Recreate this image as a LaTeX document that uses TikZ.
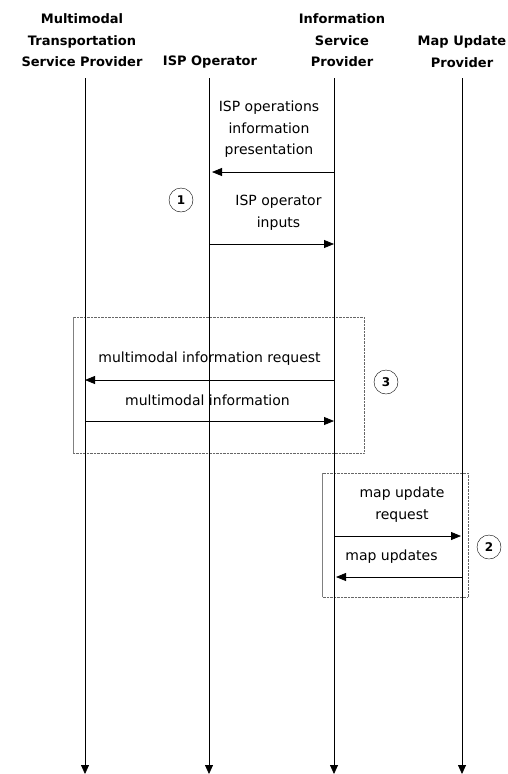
\documentclass[tikz,border=0pt]{standalone}
\usepackage{fontspec}
\setmainfont{DejaVu Sans}
\usetikzlibrary{arrows.meta}

\tikzstyle{actor}=[align=center,inner sep=0pt,font=\bfseries\fontsize{13}{21.5}\selectfont]
\tikzstyle{msglabel}=[align=center,inner sep=0pt,font=\fontsize{14}{21.5}\selectfont]
\tikzstyle{stepmark}=[circle,draw,thin,minimum size=24pt,inner sep=0pt,font=\bfseries\fontsize{12}{14}\selectfont]
\tikzstyle{lifeline}=[draw,thick,-{Triangle[length=9pt,width=8pt]}]
\tikzstyle{msg}=[draw,thick,-{Triangle[length=10pt,width=8pt]}]
\tikzstyle{group}=[draw=black!60,densely dotted,thin]

\begin{document}
\begin{tikzpicture}[x=1pt,y=-1pt]
		\useasboundingbox (0,0) rectangle (508,774);

		% actors
		\node [actor] (mtsp)  at (82, 40.5)  {Multimodal\\Transportation\\Service Provider};
		\node [actor] (ispop) at (210, 62)   {ISP Operator};
		\node [actor] (isp)   at (342, 40.5) {Information\\Service\\Provider};
		\node [actor] (mup)   at (462, 51.5) {Map Update\\Provider};

		\coordinate (mtsp top)  at (85, 78);
		\coordinate (mtsp bot)  at (85, 774);
		\coordinate (ispop top) at (209, 78);
		\coordinate (ispop bot) at (209, 774);
		\coordinate (isp top)   at (334, 78);
		\coordinate (isp bot)   at (334, 774);
		\coordinate (mup top)   at (462, 78);
		\coordinate (mup bot)   at (462, 774);

		% groups
		\draw [group] (73, 317) rectangle (364, 453);
		\draw [draw=black!50,thin] (73, 317) -- (73, 453);
		\draw [group] (322, 473) rectangle (468, 597);
		\draw [draw=black!50,thin] (322, 473) -- (322, 597);

		\draw [lifeline] (mtsp top)  -- (mtsp bot);
		\draw [lifeline] (ispop top) -- (ispop bot);
		\draw [lifeline] (isp top)   -- (isp bot);
		\draw [lifeline] (mup top)   -- (mup bot);

		% message levels
		\coordinate (m1) at (0, 172);
		\coordinate (m2) at (0, 244);
		\coordinate (m3) at (0, 380);
		\coordinate (m4) at (0, 421);
		\coordinate (m5) at (0, 536);
		\coordinate (m6) at (0, 577);

		\node [msglabel] (l1) at (269, 129.5) {ISP operations\\information\\presentation};
		\node [msglabel] (l2) at (278.5, 213) {ISP operator\\inputs};
		\node [msglabel] (l3) at (209.5, 359) {multimodal information request};
		\node [msglabel] (l4) at (207.5, 400) {multimodal information};
		\node [msglabel] (l5) at (402, 504.5) {map update\\request};
		\node [msglabel] (l6) at (391.5, 557) {map updates};

		\draw [msg] (isp top |- m1)   -- ([xshift=3pt]ispop top |- m1);
		\draw [msg] (ispop top |- m2) -- (isp top |- m2);
		\draw [msg] (isp top |- m3)   -- (mtsp top |- m3);
		\draw [msg] (mtsp top |- m4)  -- (isp top |- m4);
		\draw [msg] (isp top |- m5)   -- ([xshift=-1pt]mup top |- m5);
		\draw [msg] (mup top |- m6)   -- ([xshift=2pt]isp top |- m6);

		% step numbers
		\node [stepmark] (s1) at (181, 200) {1};
		\node [stepmark] (s3) at (386, 382) {3};
		\node [stepmark] (s2) at (489, 547) {2};
	\end{tikzpicture}
\end{document}
